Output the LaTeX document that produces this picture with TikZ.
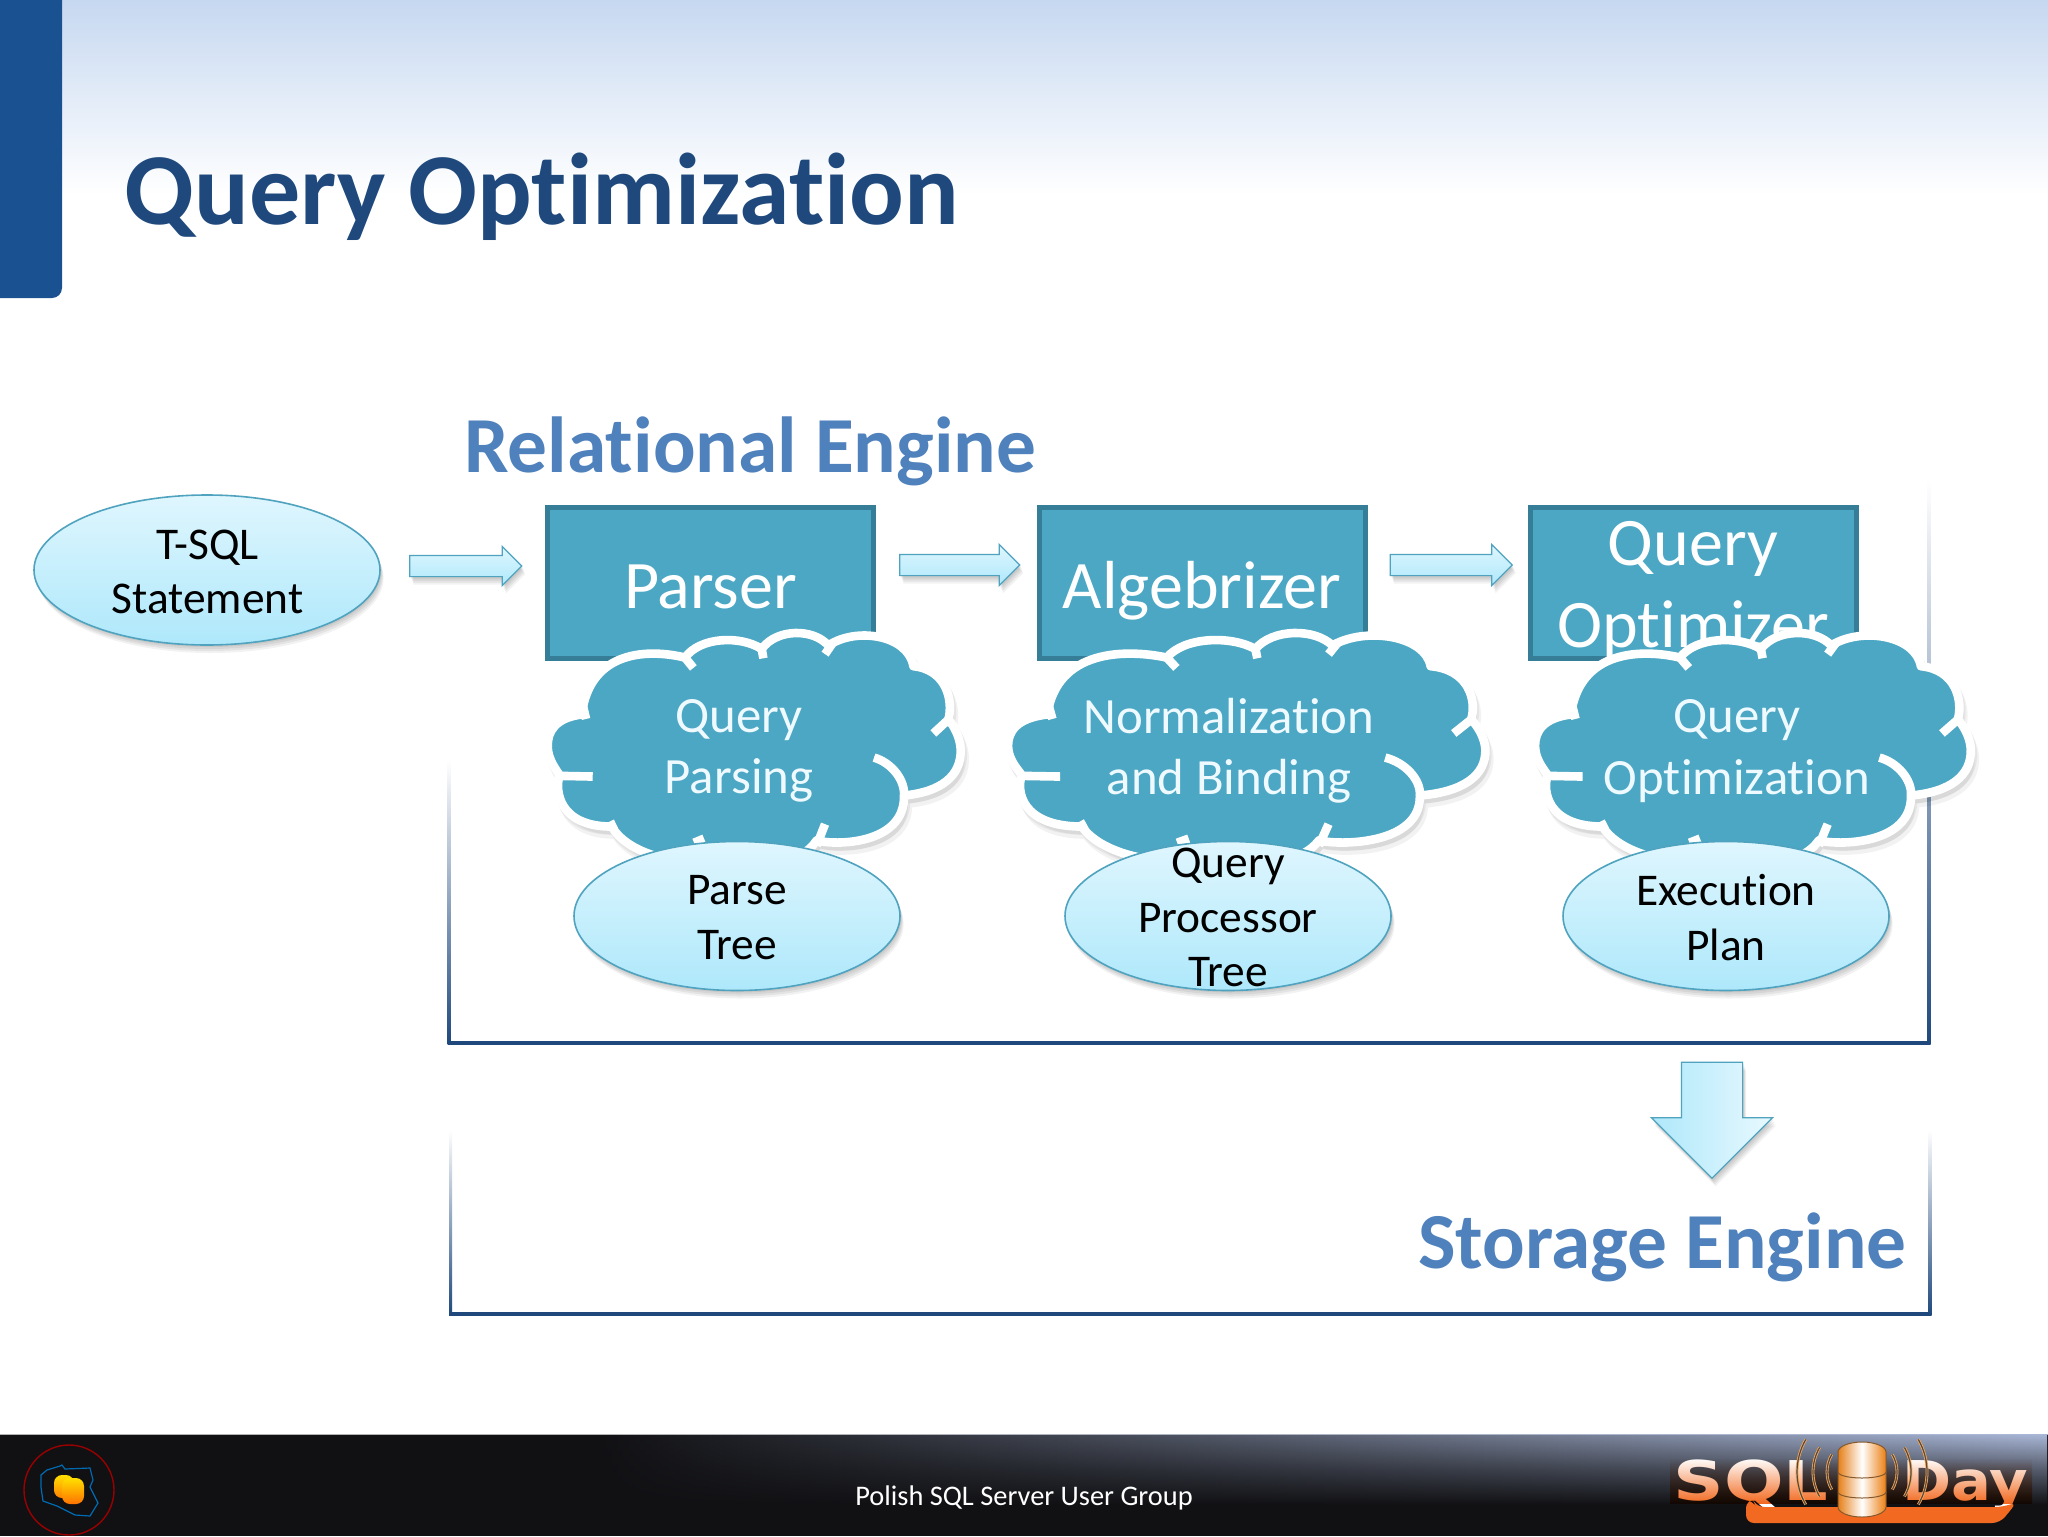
\documentclass[tikz,border=0pt]{standalone}
\usepackage{fontspec}
\setmainfont{Carlito}[Ligatures=NoCommon]
\newfontfamily\logofont{DejaVu Sans}
\usepackage{xcolor}
\usetikzlibrary{shapes.geometric,shapes.arrows,fadings}
\definecolor{cTab}{HTML}{1A5190}
\definecolor{cTitle}{HTML}{1F497D}
\definecolor{cHead}{HTML}{4F81BD}
\definecolor{cSky}{HTML}{C6D8F0}
\definecolor{cBox}{HTML}{4BA7C4}
\definecolor{cBoxEdge}{HTML}{367D97}
\definecolor{cPaleTop}{HTML}{DFF6FE}
\definecolor{cPaleLow}{HTML}{AEE8FB}
\definecolor{cPaleEdge}{HTML}{4FA3BF}
\definecolor{cBar}{HTML}{111114}
\definecolor{cBarHi}{HTML}{AAB8D8}
\definecolor{cOrange}{HTML}{F26A21}
\definecolor{cCloudText}{HTML}{EEFAFF}
\tikzset{
  softshadow/.style={
    preaction={fill=black, opacity=.06, transform canvas={xshift=.6pt, yshift=-1pt}},
    preaction={fill=black, opacity=.06, transform canvas={xshift=1pt, yshift=-2pt}},
    preaction={fill=black, opacity=.06, transform canvas={xshift=1.4pt, yshift=-3pt}},
    preaction={fill=black, opacity=.05, transform canvas={xshift=1.8pt, yshift=-4pt}}},
  enginebox/.style={draw=cBoxEdge, fill=cBox, line width=2.5pt, minimum width=163pt, minimum height=75.5pt, inner sep=0pt},
  enginetext/.style={text=white, align=center, font=\fontsize{34}{41}\selectfont},
  bubble/.style={ellipse, draw=cPaleEdge, line width=.8pt, top color=cPaleTop, bottom color=cPaleLow,
    minimum width=163pt, minimum height=74.5pt, inner sep=0pt, softshadow},
  bubbletext/.style={align=center, text=black, font=\fontsize{22.7}{27.4}\selectfont},
  cloudtext/.style={align=center, text=cCloudText, font=\fontsize{25.4}{30.7}\selectfont},
  flowarrow/.style={single arrow, draw=cPaleEdge, line width=.6pt, top color=cPaleTop, bottom color=cPaleLow,
    inner sep=5pt, single arrow head extend=5pt, softshadow},
  downarrow/.style={single arrow, shape border rotate=270, draw=cPaleEdge, line width=.6pt,
    left color=cPaleLow, right color=cPaleTop!70!white, inner sep=15pt, single arrow head extend=15pt,
    minimum height=58pt, softshadow},
  cloudedge/.style={draw=white, line width=4.3pt, line join=round},
  boxline/.style={draw=cTitle, line width=1.6pt},
  logoarc/.style={draw=orange!70!white, line width=.4pt, double=black!70, double distance=.6pt},
}
\newcommand{\cloudlobes}[2]{
\begin{scope}[shift={(#1,480)}, xscale=#2/3, yscale=1/2.9, shift={(-155,0)}]
  \path[fill=black, opacity=.05, line width=4.3pt, draw=black, transform canvas={xshift=1pt, yshift=-2pt}] \cloudoutline;
  \path[fill=black, opacity=.05, line width=4.3pt, draw=black, transform canvas={xshift=2pt, yshift=-4pt}] \cloudoutline;
  \path[fill=cBox, cloudedge] \cloudoutline;
  \draw[cloudedge] (555,515) -- (580,545);
  \draw[cloudedge] (178,858) -- (278,860);
  \draw[cloudedge] (245,640) -- (258,693);
  \draw[cloudedge] (785,490) -- (790,517);
  \draw[cloudedge] (1000,470) -- (975,505);
  \draw[cloudedge] (1345,695) -- (1300,735);
  \draw[cloudedge] (1212,915) .. controls (1215,870) and (1175,820) .. (1122,805);
  \draw[cloudedge] (330,990) -- (342,1014);
  \draw[cloudedge] (975,998) -- (950,1060);
  \draw[cloudedge] (582,1052) -- (612,1040);
\end{scope}}
\newcommand{\cloudoutline}{(245,680) .. controls (165,690) and (143,730) .. (143,770)
  .. controls (143,820) and (180,850) .. (178,858)
  .. controls (165,900) and (175,1005) .. (335,1005)
  .. controls (380,1080) and (520,1120) .. (640,1100)
  .. controls (760,1130) and (900,1120) .. (950,1045)
  .. controls (1000,1060) and (1215,1060) .. (1212,915)
  .. controls (1320,905) and (1385,860) .. (1382,780)
  .. controls (1380,745) and (1360,710) .. (1345,695)
  .. controls (1360,640) and (1340,550) .. (1240,540)
  .. controls (1225,450) and (1070,425) .. (985,480)
  .. controls (940,430) and (830,430) .. (785,490)
  .. controls (720,450) and (600,455) .. (555,515)
  .. controls (450,490) and (270,490) .. (245,680) -- cycle}
\begin{document}
\begin{tikzpicture}[x=.5pt, y=-.5pt]
\useasboundingbox (0,0) rectangle (2048,1536);
\fill[white] (0,0) rectangle (2048,1536);
\shade[top color=cSky, bottom color=white] (0,0) rectangle (2048,195);
\fill[cTab] (0,0) -- (62,0) -- (62,288) arc[start angle=0, end angle=90, radius=10] -- (0,298) -- cycle;
\node[anchor=base west, inner sep=0pt, text=cTitle, font=\fontsize{51}{51}\selectfont\bfseries] (title) at (124,224) {Query Optimization};
\shade[top color=white, bottom color=cTitle] (447.5,760) rectangle (450.5,1044);
\shade[top color=white, bottom color=cTitle] (1927.5,480) rectangle (1930.5,1044);
\draw[boxline] (449,1043) -- (1929,1043);
\shade[top color=white, bottom color=cTitle] (449,1130) rectangle (452,1315);
\shade[top color=white, bottom color=cTitle] (1928.5,1130) rectangle (1931.5,1315);
\draw[boxline] (450,1314) -- (1930,1314);
\node[anchor=base west, inner sep=0pt, text=cHead, font=\fontsize{39.7}{40}\selectfont\bfseries] (relational) at (464,472) {Relational Engine};
\node[anchor=base east, inner sep=0pt, text=cHead, font=\fontsize{39.7}{40}\selectfont\bfseries] (storage) at (1907,1268) {Storage Engine};
\node[bubble, minimum width=173pt, minimum height=75pt] (tsql) at (207,570) {};
\node[bubbletext] (tsqltext) at (207.5,572) {T-SQL\\Statement};
\node[flowarrow, minimum height=56pt, minimum width=18pt, single arrow head extend=4.5pt] (arrA) at (460.5,566) {};
\node[flowarrow, minimum height=60pt, minimum width=20pt] (arrB) at (954.5,565) {};
\node[flowarrow, minimum height=61pt, minimum width=20pt] (arrC) at (1446,565) {};
\node[enginebox] (parser) at (710.5,583) {};
\node[enginebox] (algebrizer) at (1202,583) {};
\node[enginebox] (optimizer) at (1693,583) {};
\node[enginetext] (parsertext) at (710.5,587) {Parser};
\node[enginetext] (algebrizertext) at (1202,591) {Algebrizer};
\node[enginetext] (optimizertext) at (1693,590) {Query\\Optimizer};
\cloudlobes{551.7}{1}
\cloudlobes{1012.7}{1.1556}
\cloudlobes{1539.3}{1.055}
\node[cloudtext] (parsing) at (739,751) {Query\\Parsing};
\node[cloudtext] (binding) at (1229,751) {Normalization\\and Binding};
\node[cloudtext] (optimization) at (1737,751) {Query\\Optimization};
\foreach \nm/\xs/\lab in {tree/737/{Parse\\Tree}, proc/1228/{Query\\Processor\\Tree}, plan/1726/{Execution\\Plan}}{
  \node[bubble] (\nm) at (\xs,916) {};
  \node[bubbletext] (\nm text) at (\xs,917.5) {\lab};
}
\node[downarrow] (down) at (1712,1105) {};
\fill[cBar] (0,1434) rectangle (2048,1536);
\draw[white!70!black, line width=.5pt] (0,1434) -- (2048,1434);
\shade[top color=cBarHi, bottom color=cBar, middle color=cBar!55!cBarHi, path fading=west] (600,1434) rectangle (2048,1505);
\node[text=white, font=\fontsize{14.2}{14.2}\selectfont] (footer) at (1024,1498) {Polish SQL Server User Group};
\draw[red!60!black, line width=.7pt] (69,1490) circle[radius=45];
\draw[blue!40!cyan!70!black, line width=.6pt] (41,1475) -- (47,1470) -- (60,1466) -- (62,1465) -- (65,1469) -- (90,1468) -- (93,1480) -- (90,1487) -- (98,1503) -- (90,1516) -- (75,1515) -- (57,1506) -- (43,1501) -- (41,1487) -- cycle;
\shade[top color=yellow!75!orange, bottom color=orange, rounded corners=4pt] (54,1475) rectangle (74,1498);
\shade[top color=yellow!75!orange, bottom color=orange!90!red, rounded corners=4pt] (62,1478) rectangle (84,1504);
\node[inner sep=0pt, anchor=base west, xscale=1.28, text=white, font=\logofont\bfseries\fontsize{27.4}{27.4}\selectfont] (logosql) at (1673,1500) {SQL};
\node[inner sep=0pt, anchor=base west, xscale=1.08, text=white, font=\logofont\bfseries\fontsize{27.4}{27.4}\selectfont] (logoday) at (1902,1500) {Day};
\begin{scope}[blend mode=multiply]
  \shade[top color=white, bottom color=cOrange] (1670,1458) rectangle (2032,1503);
\end{scope}
\fill[cOrange, rounded corners=4pt] (1746,1500) -- (1746,1523) -- (2000,1523) -- (2017,1502) -- (2003,1507) -- (1756,1507) -- (1753,1500) -- cycle;
\foreach \rad in {35,49,65}{
  \draw[logoarc] (1862,1472) ++(150:\rad) arc[start angle=150, end angle=210, radius=\rad];
  \draw[logoarc] (1862,1472) ++(30:\rad) arc[start angle=30, end angle=-30, radius=\rad];
}
\shade[left color=orange!60!brown, right color=orange!70!brown, middle color=white, draw=brown!70!black, line width=.5pt]
  (1838,1452) arc[x radius=24, y radius=10, start angle=180, end angle=360] -- (1886,1507)
  arc[x radius=24, y radius=10, start angle=0, end angle=180] -- cycle;
\draw[brown!70!black, line width=.5pt] (1838,1472) arc[x radius=24, y radius=6, start angle=180, end angle=0];
\draw[brown!70!black, line width=.5pt] (1838,1492) arc[x radius=24, y radius=6, start angle=180, end angle=0];
\end{tikzpicture}
\end{document}
